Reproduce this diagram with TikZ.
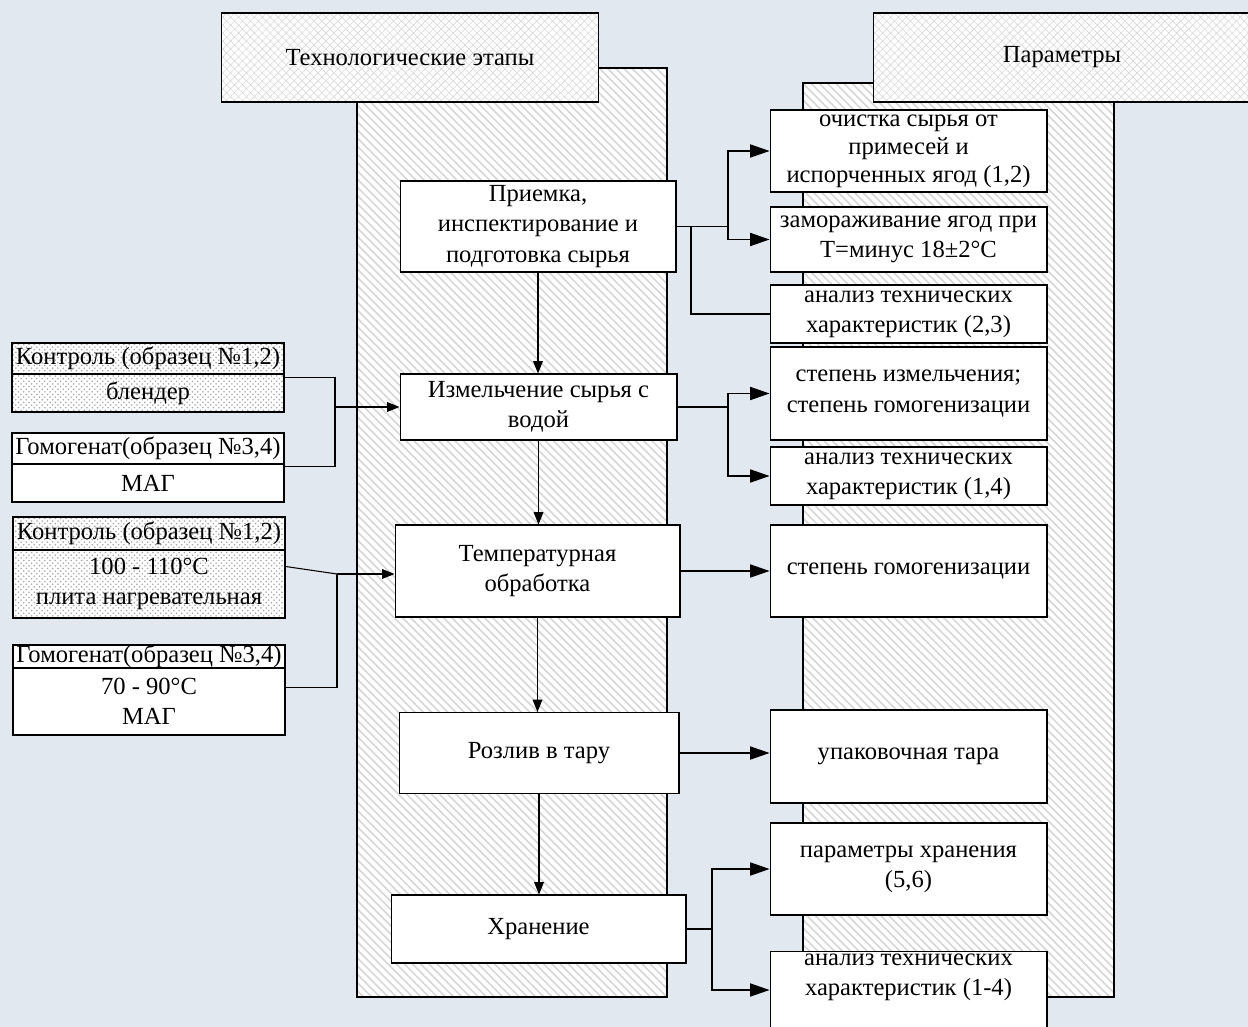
\documentclass[tikz,border=0pt]{standalone}
\usepackage{fontspec}
\setmainfont{Liberation Serif}
\usetikzlibrary{arrows.meta,patterns,patterns.meta,positioning}
\definecolor{bgtint}{RGB}{226,232,240}

\begin{document}
\begin{tikzpicture}[x=0.02cm,y=-0.02cm,
    font=\fontsize{14}{17.2}\selectfont,
    every node/.style={inner xsep=0pt,inner ysep=0pt,align=center},
    column/.style={draw,line width=0.6pt,preaction={fill=white},pattern={Lines[angle=-45,distance=3.3pt,line width=0.9pt]},pattern color=gray!32},
    header/.style={draw,line width=0.6pt,preaction={fill=white},pattern={Hatch[angle=45,distance=3.2pt,line width=0.35pt]},pattern color=gray!30,minimum width=7.54cm,minimum height=1.78cm},
    stage/.style={draw,line width=0.6pt,fill=white},
    param/.style={draw,line width=0.6pt,fill=white,minimum width=5.54cm},
    dotted box/.style={draw,line width=0.6pt,preaction={fill=white},pattern=crosshatch dots,pattern color=gray!70,minimum width=5.44cm},
    plain box/.style={draw,line width=0.6pt,fill=white,minimum width=5.44cm},
    big arrow/.style={-{Triangle[length=11pt,width=7.5pt]},line width=0.6pt},
    small arrow/.style={-{Triangle[length=7pt,width=5.5pt]},line width=0.6pt},
    link/.style={line width=0.6pt}]
   \useasboundingbox (0,0) rectangle (1248,1027);
   \fill[bgtint] (0,0) rectangle (1248,1027);
   % columns and headings
   \draw[column] (357,68) rectangle (667,997);
   \draw[column] (803,83) rectangle (1114,997);
   \node[header] (hdrL) at (410,57.5) {Технологические этапы};
   \node[header] (hdrR) at (1062,57.5) {Параметры};
   % stages
   \node[stage,minimum width=5.52cm,minimum height=1.82cm] (pri) at (538,226.5) {Приемка,\\инспектирование и\\подготовка сырья};
   \node[stage,minimum width=5.54cm,minimum height=1.32cm] (izm) at (538.5,407) {Измельчение сырья с\\водой};
   \node[stage,minimum width=5.7cm,minimum height=1.84cm] (temp) at (537.5,571) {Температурная\\обработка};
   \node[stage,minimum width=5.6cm,minimum height=1.62cm] (rozl) at (539,753) {Розлив в тару};
   \node[stage,minimum width=5.9cm,minimum height=1.36cm] (hran) at (538.5,929) {Хранение};
   % parameters
   \node[param,minimum height=1.64cm,font=\fontsize{14}{16}\selectfont] (ochist) at (908.5,151) {очистка сырья от\\примесей и\\испорченных ягод (1,2)};
   \node[param,minimum height=1.3cm] (zamor) at (908.5,239.5) {замораживание ягод при\\Т=минус 18±2°С};
   \node[param,minimum height=1.16cm] (an23) at (908.5,314) {анализ технических\\характеристик (2,3)};
   \node[param,minimum height=1.86cm] (stizm) at (908.5,393.5) {степень измельчения;\\степень гомогенизации};
   \node[param,minimum height=1.16cm] (an14) at (908.5,476) {анализ технических\\характеристик (1,4)};
   \node[param,minimum height=1.84cm] (stgom) at (908.5,571) {степень гомогенизации};
   \node[param,minimum height=1.86cm] (upak) at (908.5,756.5) {упаковочная тара};
   \node[param,minimum height=1.84cm] (parh) at (908.5,869) {параметры хранения\\(5,6)};
   \node[param,minimum height=1.54cm] (an14b) at (908.5,990) {анализ технических\\характеристик (1-4)\\\mbox{}};
   % equipment
   \node[dotted box,minimum height=0.62cm] (k1a) at (148,358.5) {Контроль (образец №1,2)};
   \node[dotted box,minimum height=0.76cm] (k1b) at (148,393) {блендер};
   \node[plain box,minimum height=0.62cm] (g1a) at (148,448.5) {Гомогенат(образец №3,4)};
   \node[plain box,minimum height=0.76cm] (g1b) at (148,483) {МАГ};
   \node[dotted box,minimum height=0.66cm] (k2a) at (149,533.5) {Контроль (образец №1,2)};
   \node[dotted box,minimum height=1.36cm] (k2b) at (149,584) {100 - 110°С\\плита нагревательная};
   \node[plain box,minimum height=0.46cm] (g2a) at (149,656.5) {Гомогенат(образец №3,4)};
   \node[plain box,minimum height=1.34cm] (g2b) at (149,701.5) {70 - 90°С\\МАГ};
   % junctions
   \coordinate (j1) at (728,226.5);
   \coordinate (j1b) at (691,226.5);
   \coordinate (j2) at (728,407);
   \coordinate (j3) at (712,929);
   \coordinate (j4) at (335,407);
   \coordinate (j5) at (337,574);
   % flow
   \draw[small arrow] (pri.south) -- (pri.south |- izm.north);
   \draw[small arrow] (izm.south) -- (izm.south |- temp.north);
   \draw[small arrow] (temp.south) -- (temp.south |- rozl.north);
   \draw[small arrow] (rozl.south) -- (rozl.south |- hran.north);
   \draw[link] (pri.east) -- (j1);
   \draw[big arrow] (j1) |- (ochist.west);
   \draw[big arrow] (j1) |- (zamor.west);
   \draw[link] (j1b) |- (an23.west);
   \draw[link] (izm.east) -- (j2);
   \draw[big arrow] (j2) |- (stizm.west);
   \draw[big arrow] (j2) |- (an14.west);
   \draw[big arrow] (temp.east) -- (stgom.west);
   \draw[big arrow] (rozl.east) -- (rozl.east -| upak.west);
   \draw[link] (hran.east) -- (j3);
   \draw[big arrow] (j3) |- (parh.west);
   \draw[big arrow] (j3) |- (an14b.west);
   \draw[link] (k1b.north east) ++(0,4) -| (j4);
   \draw[link] (g1b.north east) ++(0,3) -| (j4);
   \draw[small arrow] (j4) -- (izm.west);
   \draw[link] (k2b.north east) ++(0,17) -- (j5);
   \draw[link] (g2b.north east) ++(0,20) -| (j5);
   \draw[small arrow] (j5) -- (j5 -| temp.west);
\end{tikzpicture}
\end{document}
